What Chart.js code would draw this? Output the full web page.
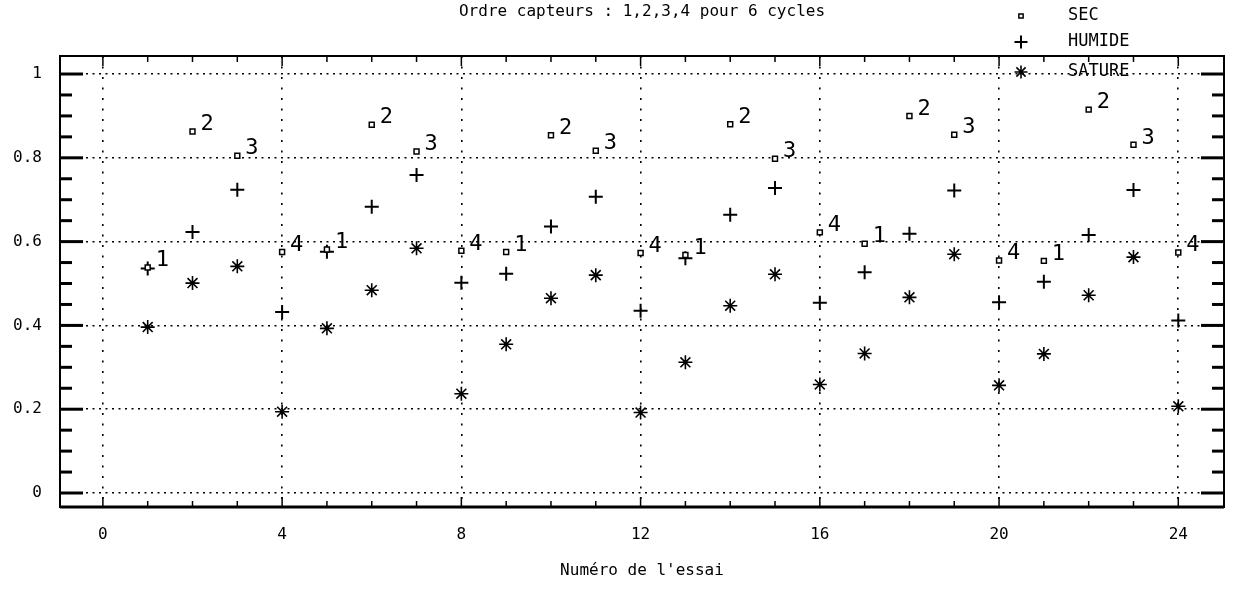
<!DOCTYPE html>
<html><head><meta charset="utf-8">
<script src="https://cdn.jsdelivr.net/npm/chart.js@4/dist/chart.umd.min.js"></script>
<style>html,body{margin:0;padding:0;background:#fff;}#wrap{width:1233px;height:596px;}</style>
</head><body><div id="wrap"><canvas id="c" width="1233" height="596"></canvas></div>
<script>
const titleText = 'Ordre capteurs : 1,2,3,4 pour 6 cycles';
const xAxisTitle = "Numéro de l'essai";
const essais   = [1,2,3,4,5,6,7,8,9,10,11,12,13,14,15,16,17,18,19,20,21,22,23,24];
const capteurs = [1,2,3,4,1,2,3,4,1,2,3,4,1,2,3,4,1,2,3,4,1,2,3,4];
const sec    = [0.538,0.863,0.805,0.575,0.581,0.879,0.815,0.578,0.575,0.854,0.817,0.573,0.568,0.880,0.798,0.622,0.595,0.900,0.855,0.555,0.554,0.915,0.831,0.574];
const humide = [0.536,0.623,0.724,0.432,0.576,0.683,0.759,0.502,0.523,0.636,0.707,0.435,0.560,0.664,0.728,0.454,0.527,0.619,0.722,0.455,0.504,0.616,0.723,0.412];
const sature = [0.396,0.501,0.541,0.194,0.393,0.484,0.584,0.237,0.355,0.465,0.520,0.192,0.312,0.447,0.522,0.259,0.333,0.467,0.570,0.257,0.332,0.472,0.563,0.207];
const xTicks = [0,4,8,12,16,20,24];
const xTickLabels = ['0','4','8','12','16','20','24'];
const yTicks = [0,0.2,0.4,0.6,0.8,1];
const yTickLabels = ['0','0.2','0.4','0.6','0.8','1'];

const FONT = "'DejaVu Sans Mono', 'Liberation Mono', monospace";

function line(ctx,x1,y1,x2,y2){ctx.beginPath();ctx.moveTo(x1,y1);ctx.lineTo(x2,y2);ctx.stroke();}

const framePlugin = {
  id:'frame',
  beforeDatasetsDraw(chart){
    const {ctx, chartArea:a, scales:{x,y}} = chart;
    ctx.save();
    ctx.strokeStyle='#000';
    ctx.lineWidth=2;
    ctx.strokeRect(a.left, a.top, a.right-a.left, a.bottom-a.top);
    ctx.lineWidth=3;
    line(ctx,a.left,a.bottom,a.right,a.bottom);
    for(let k=0;k<=20;k++){
      const py=y.getPixelForValue(k*0.05);
      const len=(k%4===0)?23:12;
      ctx.lineWidth=3;
      line(ctx,a.left,py,a.left+len,py);
      line(ctx,a.right,py,a.right-len,py);
    }
    for(let k=0;k<=24;k++){
      const px=x.getPixelForValue(k);
      const len=(k%4===0)?10:6;
      ctx.lineWidth=1.5;
      line(ctx,px,a.bottom,px,a.bottom-len);
      line(ctx,px,a.top,px,a.top+len);
    }
    ctx.restore();
  }
};

const labelPlugin = {
  id:'sensorLabels',
  afterDatasetsDraw(chart){
    const ctx=chart.ctx;
    const meta=chart.getDatasetMeta(0);
    ctx.save();
    ctx.fillStyle='#000';
    ctx.font="22px "+FONT;
    ctx.textAlign='left';
    ctx.textBaseline='middle';
    meta.data.forEach((pt,i)=>{ ctx.fillText(String(capteurs[i]), pt.x+8, pt.y-7); });
    ctx.restore();
  }
};

const legendPos = {markerX:1021, textX:1068, rows:[16,42,72]};
const legendPlugin = {
  id:'customLegend',
  afterDraw(chart){
    const ctx=chart.ctx;
    ctx.save();
    chart.data.datasets.forEach((ds,i)=>{
      const yy=legendPos.rows[i];
      ctx.strokeStyle='#000';
      ctx.fillStyle=ds.backgroundColor||'#000';
      ctx.lineWidth=ds.borderWidth;
      const opts={pointStyle:ds.pointStyle, radius:ds.legendRadius, rotation:0, borderWidth:ds.borderWidth};
      if(Chart.helpers && Chart.helpers.drawPoint){ Chart.helpers.drawPoint(ctx,opts,legendPos.markerX,yy); }
      ctx.fillStyle='#000';
      ctx.font="17px "+FONT;
      ctx.textAlign='left';
      ctx.textBaseline='middle';
      ctx.fillText(ds.label, legendPos.textX, yy);
    });
    ctx.restore();
  }
};

const mk = arr => essais.map((x,i)=>({x:x, y:arr[i]}));

new Chart(document.getElementById('c'), {
  type:'scatter',
  data:{datasets:[
    {label:'SEC', data:mk(sec), pointStyle:'rect', radius:3.5, legendRadius:3, borderColor:'#000', backgroundColor:'#fff', borderWidth:1.5},
    {label:'HUMIDE', data:mk(humide), pointStyle:'cross', radius:7, legendRadius:6.5, borderColor:'#000', backgroundColor:'#000', borderWidth:2},
    {label:'SATURE', data:mk(sature), pointStyle:'star', radius:7, legendRadius:6.5, borderColor:'#000', backgroundColor:'#000', borderWidth:1.6}
  ]},
  options:{
    responsive:false, animation:false, devicePixelRatio:1,
    layout:{padding:{left:0,right:6,top:0,bottom:0}},
    plugins:{
      legend:{display:false},
      tooltip:{enabled:false},
      title:{display:true, text:titleText, fullSize:false, color:'#000',
        font:{family:FONT,size:16,weight:'normal',lineHeight:1.2}, padding:{top:2,bottom:34.8}}
    },
    scales:{
      x:{type:'linear', min:-0.957, max:25.02,
        afterBuildTicks:s=>{s.ticks=xTicks.map(v=>({value:v}));},
        afterFit:s=>{s.height=89;},
        ticks:{callback:(v,i)=>xTickLabels[i], padding:18, color:'#000', maxRotation:0, autoSkip:false,
          font:{family:FONT,size:16}},
        grid:{color:'#000', lineWidth:1.6, drawTicks:false, borderDash:[2,8.5]},
        border:{display:false, dash:[2,8.5]},
        title:{display:true, text:xAxisTitle, color:'#000', font:{family:FONT,size:16,lineHeight:1.2}, padding:{top:0,bottom:16}}
      },
      y:{type:'linear', min:-0.0334, max:1.043,
        afterBuildTicks:s=>{s.ticks=yTicks.map(v=>({value:v}));},
        afterFit:s=>{s.width=60;},
        ticks:{callback:(v,i)=>yTickLabels[i], padding:18, color:'#000', font:{family:FONT,size:16}},
        grid:{color:'#000', lineWidth:1.6, drawTicks:false, borderDash:[2,4.5]},
        border:{display:false, dash:[2,4.5]}
      }
    }
  },
  plugins:[framePlugin,labelPlugin,legendPlugin]
});
</script></body></html>
